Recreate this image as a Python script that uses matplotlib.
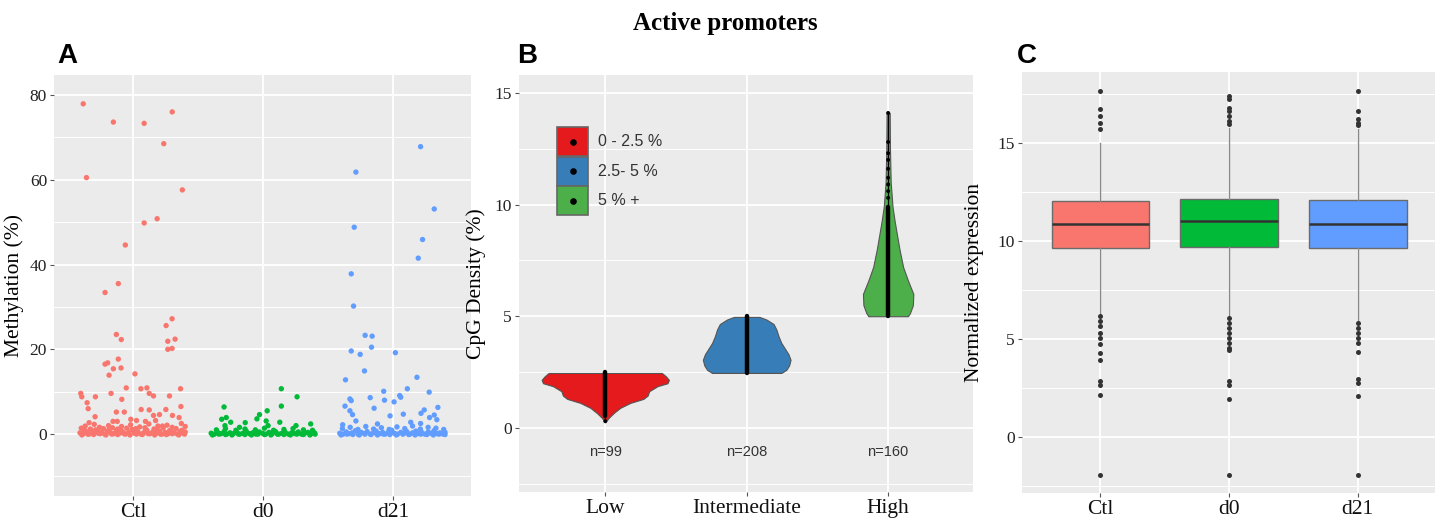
import matplotlib
matplotlib.use("Agg")
import matplotlib.pyplot as plt
from matplotlib.patches import Rectangle
import numpy as np

SERIF = "Liberation Serif"
SANS = "Liberation Sans"
BG = "#EBEBEB"

# ---------------- Panel A: methylation per sample (jittered points) ----------------
groups_a = ["Ctl", "d0", "d21"]
colors_a = ["#F8766D", "#00BA38", "#619CFF"]

ctl_dx = [-0.385, -0.36, -0.153, 0.084, 0.30, 0.235, 0.378, 0.084, 0.184, -0.061,
          -0.115, -0.217, -0.130, -0.092, 0.299, 0.253, 0.266, 0.322, 0.266, 0.299,
          -0.217, -0.197, -0.115, -0.186, -0.153, -0.094, 0.013, -0.404, -0.396, -0.355,
          -0.347, -0.291, -0.171, -0.088, -0.054, -0.130, -0.069, 0.059, 0.105, 0.123,
          0.156, 0.279, 0.364, 0.367, -0.294, 0.061, 0.123, 0.251, 0.353, 0.302,
          0.156, 0.202, -0.34, -0.156, -0.123, -0.019, 0.025, 0.094, 0.172, 0.225]
ctl_y = [77.9, 60.5, 73.6, 73.3, 76.0, 68.5, 57.6, 49.8, 50.8, 44.6,
         35.5, 33.4, 23.5, 22.3, 27.2, 25.6, 21.9, 22.4, 20.0, 20.2,
         16.5, 16.8, 17.7, 13.9, 15.4, 15.6, 14.2, 9.6, 8.8, 7.4,
         6.0, 8.8, 9.6, 8.2, 10.9, 5.2, 5.2, 10.7, 10.9, 9.6,
         9.0, 9.0, 10.7, 6.5, 4.1, 5.8, 5.7, 5.8, 3.9, 4.4,
         4.4, 4.6, 2.7, 3.0, 3.0, 3.5, 3.2, 3.0, 3.2, 1.9]
ctl_base_dx = [-0.41, -0.385, -0.36, -0.34, -0.315, -0.29, -0.27, -0.245, -0.22, -0.2,
               -0.175, -0.15, -0.13, -0.105, -0.08, -0.06, -0.035, -0.01, 0.01, 0.035,
               0.06, 0.08, 0.105, 0.13, 0.15, 0.175, 0.2, 0.22, 0.245, 0.27,
               0.29, 0.315, 0.34, 0.36, 0.385, 0.40,
               -0.40, -0.37, -0.33, -0.30, -0.26, -0.23, -0.19, -0.16, -0.12, -0.09,
               -0.05, -0.02, 0.02, 0.05, 0.09, 0.12, 0.16, 0.19, 0.23, 0.26,
               0.30, 0.33, 0.37, 0.40,
               -0.395, -0.35, -0.305, -0.255, -0.21, -0.165, -0.12, -0.07, -0.025, 0.025,
               0.07, 0.115, 0.165, 0.21, 0.255, 0.30, 0.35, 0.395,
               -0.375, -0.28, -0.185, -0.095, 0.0, 0.095, 0.185, 0.28, 0.375]
ctl_base_y = [0.3, 0.1, 0.6, 0.0, 0.4, 1.0, 0.2, 0.5, 0.0, 0.7,
              0.3, 0.1, 0.8, 0.2, 0.5, 0.0, 0.4, 1.1, 0.2, 0.6,
              0.0, 0.3, 0.9, 0.1, 0.5, 0.2, 0.7, 0.0, 0.4, 0.1,
              0.8, 0.3, 0.0, 0.6, 0.2, 0.5,
              1.4, 1.9, 1.2, 2.3, 1.6, 1.3, 2.0, 1.5, 1.2, 1.8,
              1.4, 2.2, 1.3, 1.7, 1.5, 2.4, 1.2, 1.9, 1.4, 2.1,
              1.6, 1.3, 2.5, 1.8,
              -0.2, 0.0, -0.1, 0.1, -0.2, 0.0, -0.1, 0.1, -0.2, 0.0,
              -0.1, 0.1, -0.2, 0.0, -0.1, 0.1, -0.2, 0.0,
              0.9, 0.7, 1.0, 0.8, 0.9, 0.7, 1.0, 0.8, 0.9]

d0_dx = [0.140, 0.261, -0.301, 0.140, 0.031, -0.284, -0.319, -0.25, -0.028, -0.048,
         0.128, -0.138, 0.023, -0.294, -0.182, 0.366, 0.253, 0.038]
d0_y = [10.7, 8.8, 6.4, 6.6, 5.5, 3.9, 3.5, 2.8, 4.6, 3.6,
        2.8, 2.7, 3.1, 2.0, 1.6, 2.4, 2.0, 2.0]
d0_base_dx = [-0.40, -0.375, -0.35, -0.325, -0.30, -0.28, -0.255, -0.23, -0.205, -0.18,
              -0.155, -0.13, -0.105, -0.08, -0.055, -0.03, -0.005, 0.02, 0.045, 0.07,
              0.095, 0.12, 0.145, 0.17, 0.195, 0.22, 0.245, 0.27, 0.295, 0.32,
              0.345, 0.37, 0.395,
              -0.36, -0.29, -0.21, -0.14, -0.06, 0.01, 0.08, 0.16, 0.23, 0.31, 0.38,
              -0.39, -0.34, -0.29, -0.24, -0.19, -0.14, -0.09, -0.04, 0.01, 0.06,
              0.11, 0.16, 0.21, 0.26, 0.31, 0.36, 0.40]
d0_base_y = [0.2, 0.0, 0.4, 0.1, 0.6, 0.0, 0.3, 0.1, 0.5, 0.0,
             0.2, 0.7, 0.1, 0.3, 0.0, 0.5, 0.2, 0.0, 0.4, 0.1,
             0.6, 0.0, 0.2, 0.4, 0.0, 0.3, 0.1, 0.5, 0.0, 0.2,
             0.4, 0.1, 0.3,
             1.0, 1.3, 0.9, 1.2, 1.0, 1.4, 0.9, 1.1, 1.3, 1.0, 0.9,
             -0.2, 0.0, -0.1, -0.2, 0.0, -0.1, -0.2, 0.0, -0.1, -0.2,
             0.0, -0.1, -0.2, 0.0, -0.1, -0.2, 0.0]

d21_dx = [0.212, -0.286, 0.317, -0.299, 0.227, 0.194, -0.322,
          -0.304, -0.215, -0.161, -0.166, -0.322, -0.253, 0.018, -0.22, -0.366, 0.184,
          -0.072, 0.110, 0.278, -0.332, -0.322, -0.176, -0.066, 0.051, 0.059, 0.008,
          -0.370, -0.146, 0.345, -0.332, -0.312, -0.023, 0.079, 0.240, 0.215, 0.317,
          0.281, 0.337, -0.286, -0.388, -0.12, 0.136, 0.212]
d21_y = [67.8, 61.8, 53.1, 48.8, 45.9, 41.5, 37.8,
         30.2, 23.3, 23.1, 20.5, 19.6, 18.8, 19.2, 14.9, 12.8, 13.4,
         10.1, 10.7, 9.9, 8.3, 7.9, 8.6, 8.0, 9.1, 8.7, 7.6,
         6.6, 6.1, 6.3, 5.5, 4.6, 4.3, 4.7, 5.7, 4.9, 4.5,
         3.9, 3.4, 3.1, 2.2, 2.4, 2.8, 2.5]
d21_base_dx = [-0.41, -0.385, -0.36, -0.34, -0.315, -0.29, -0.27, -0.245, -0.22, -0.2,
               -0.175, -0.15, -0.13, -0.105, -0.08, -0.06, -0.035, -0.01, 0.01, 0.035,
               0.06, 0.08, 0.105, 0.13, 0.15, 0.175, 0.2, 0.22, 0.245, 0.27,
               0.29, 0.315, 0.34, 0.36, 0.385, 0.40,
               -0.39, -0.33, -0.27, -0.21, -0.15, -0.09, -0.03, 0.03, 0.09, 0.15,
               0.21, 0.27, 0.33, 0.39,
               -0.40, -0.355, -0.31, -0.26, -0.215, -0.17, -0.12, -0.075, -0.025, 0.025,
               0.075, 0.12, 0.17, 0.215, 0.26, 0.31, 0.355, 0.40]
d21_base_y = [0.2, 0.0, 0.5, 0.1, 0.3, 0.8, 0.0, 0.4, 0.1, 0.6,
              0.0, 0.3, 0.7, 0.1, 0.4, 0.0, 0.5, 0.9, 0.2, 0.0,
              0.4, 0.1, 0.6, 0.0, 0.3, 0.7, 0.1, 0.4, 0.0, 0.5,
              0.2, 0.8, 0.1, 0.3, 0.0, 0.4,
              1.3, 1.6, 1.1, 1.8, 1.2, 1.5, 1.1, 1.7, 1.3, 1.9,
              1.2, 1.6, 1.4, 1.1,
              -0.2, 0.0, -0.1, -0.2, 0.0, -0.1, -0.2, 0.0, -0.1, -0.2,
              0.0, -0.1, -0.2, 0.0, -0.1, -0.2, 0.0, -0.1]

points_a = [(ctl_dx + ctl_base_dx, ctl_y + ctl_base_y),
            (d0_dx + d0_base_dx, d0_y + d0_base_y),
            (d21_dx + d21_base_dx, d21_y + d21_base_y)]

# ---------------- Panel B: CpG density violins ----------------
groups_b = ["Low", "Intermediate", "High"]
colors_b = ["#E41A1C", "#377EB8", "#4DAF4A"]
counts_b = [99, 208, 160]
legend_b = ["0 - 2.5 %", "2.5- 5 %", "5 % +"]

low_y = [0.25, 0.45, 0.67, 0.9, 1.12, 1.3, 1.45, 1.64, 1.87, 2.0, 2.15, 2.3, 2.46]
low_w = [0.0, 0.024, 0.06, 0.106, 0.177, 0.27, 0.30, 0.31, 0.37, 0.44, 0.45, 0.43, 0.40]
mid_y = [2.46, 2.6, 2.8, 3.05, 3.3, 3.55, 3.8, 4.1, 4.4, 4.65, 4.85, 4.97]
mid_w = [0.245, 0.28, 0.30, 0.31, 0.295, 0.27, 0.245, 0.225, 0.21, 0.19, 0.14, 0.09]
high_y = [5.0, 5.15, 5.5, 6.0, 6.6, 7.2, 8.0, 8.7, 9.3, 9.9, 11.0, 12.5, 14.1]
high_w = [0.14, 0.155, 0.175, 0.178, 0.14, 0.106, 0.08, 0.061, 0.045, 0.031, 0.018, 0.013, 0.011]
profiles_b = [(low_y, low_w), (mid_y, mid_w), (high_y, high_w)]

# dense stretch of observations (drawn as a thick strip) and isolated observations
dense_b = [(0.55, 2.5), (2.45, 5.0), (5.0, 9.9)]
sparse_b = [[0.3], [], [10.3, 10.6, 10.9, 11.2, 11.6, 12.0, 12.3, 12.8, 14.1]]

# ---------------- Panel C: normalized expression boxplots ----------------
groups_c = ["Ctl", "d0", "d21"]
colors_c = ["#F8766D", "#00BA38", "#619CFF"]
q1_c = [9.64, 9.68, 9.61]
med_c = [10.87, 10.99, 10.87]
q3_c = [12.02, 12.11, 12.07]
whislo_c = [6.24, 6.16, 5.9]
whishi_c = [15.0, 15.75, 15.68]
fliers_c = [
    [17.64, 16.7, 16.36, 16.02, 15.68, 6.16, 5.9, 5.65, 5.3, 5.05, 4.71, 4.29, 3.91, 2.84, 2.67, 2.16, -1.92],
    [17.38, 17.2, 16.79, 16.6, 16.36, 16.1, 15.94, 6.07, 5.82, 5.56, 5.3, 5.05, 4.8, 4.54, 4.42, 2.84, 2.67, 1.94, -1.92],
    [17.64, 16.62, 16.19, 16.02, 15.88, 5.82, 5.56, 5.3, 5.05, 4.8, 4.34, 2.93, 2.76, 2.08, -1.92],
]

W, H = 1442, 522
fig = plt.figure(figsize=(W / 100, H / 100), dpi=100)


def px_axes(left, top, right, bottom):
    return fig.add_axes([left / W, 1 - bottom / H, (right - left) / W, (bottom - top) / H])


def style(ax, major, minor, ylim, labels, tick_size=12.5, xtick_size=15.5):
    ax.set_facecolor(BG)
    for s in ax.spines.values():
        s.set_visible(False)
    ax.set_xlim(0.39, 3.6)
    ax.set_ylim(*ylim)
    ax.set_xticks([1, 2, 3])
    ax.set_xticklabels(labels, fontfamily=SERIF, fontsize=xtick_size, color="#111111")
    ax.set_yticks(major)
    ax.set_yticklabels([str(v) for v in major], fontfamily=SERIF, fontsize=tick_size, color="#222222")
    ax.set_yticks(minor, minor=True)
    ax.tick_params(axis="both", which="major", length=3, width=0.8, color="#555555", pad=2)
    ax.tick_params(axis="y", which="minor", length=0)
    ax.grid(True, which="major", color="white", linewidth=1.3)
    ax.grid(True, which="minor", axis="y", color="white", linewidth=0.7)
    ax.set_axisbelow(True)


# Panel A
axA = px_axes(54, 75, 471, 496)
style(axA, [0, 20, 40, 60, 80], [-10, 10, 30, 50, 70], (-14.6, 84.7), groups_a)
for i, ((dx, ys), col) in enumerate(zip(points_a, colors_a)):
    axA.scatter([i + 1 + d for d in dx], ys, s=15, color=col, edgecolors="none", zorder=3)
axA.set_ylabel("Methylation (%)", fontfamily=SERIF, fontsize=15.5, labelpad=4)

# Panel B
axB = px_axes(519, 75, 973, 492)
style(axB, [0, 5, 10, 15], [-2.5, 2.5, 7.5, 12.5], (-2.87, 15.8), groups_b)
for i, ((ys, ws), col) in enumerate(zip(profiles_b, colors_b)):
    x0 = i + 1
    ys = np.asarray(ys)
    ws = np.asarray(ws)
    axB.fill_betweenx(ys, x0 - ws, x0 + ws, facecolor=col, edgecolor="#555555",
                      linewidth=0.8, zorder=2)
    lo, hi = dense_b[i]
    axB.plot([x0, x0], [lo, hi], color="black", linewidth=3.2, solid_capstyle="round", zorder=3)
    if sparse_b[i]:
        axB.plot([x0, x0], [hi, max(sparse_b[i])], color="black", linewidth=0.9, zorder=3)
        axB.scatter([x0] * len(sparse_b[i]), sparse_b[i], s=8, color="black",
                    edgecolors="none", zorder=4)
    axB.text(x0, -1.1, f"n={counts_b[i]}", ha="center", va="center",
             fontfamily=SANS, fontsize=10.5, color="#333333")
axB.set_ylabel("CpG Density (%)", fontfamily=SERIF, fontsize=15.5, labelpad=6)

# legend keys for panel B, placed in axes pixels
for k, (lab, col) in enumerate(zip(legend_b, colors_b)):
    top = 127 + k * 29.5
    x_l, x_r = 557, 588
    (xa, ya) = axB.transAxes.inverted().transform(fig.transFigure.transform((x_l / W, 1 - (top + 29) / H)))
    (xb, yb) = axB.transAxes.inverted().transform(fig.transFigure.transform((x_r / W, 1 - top / H)))
    axB.add_patch(Rectangle((xa, ya), xb - xa, yb - ya, transform=axB.transAxes,
                            facecolor=col, edgecolor="#666666", linewidth=1.2, zorder=5))
    axB.scatter([(xa + xb) / 2], [(ya + yb) / 2], s=14, color="black",
                transform=axB.transAxes, zorder=6)
    axB.text(xb + 0.022, (ya + yb) / 2, lab, transform=axB.transAxes, ha="left", va="center",
             fontfamily=SANS, fontsize=11.5, color="#333333", zorder=6)

# Panel C
axC = px_axes(1022, 72, 1435, 493)
stats = []
for i in range(3):
    stats.append(dict(med=med_c[i], q1=q1_c[i], q3=q3_c[i],
                      whislo=whislo_c[i], whishi=whishi_c[i], fliers=fliers_c[i]))
bp = axC.bxp(stats, positions=[1, 2, 3], widths=0.76, patch_artist=True, showcaps=False,
             boxprops=dict(edgecolor="#6b6b6b", linewidth=1.0),
             medianprops=dict(color="#333333", linewidth=1.8),
             whiskerprops=dict(color="#8a8a8a", linewidth=1.0),
             flierprops=dict(marker="o", markersize=3.6, markerfacecolor="#333333",
                             markeredgecolor="none"))
for patch, col in zip(bp["boxes"], colors_c):
    patch.set_facecolor(col)
style(axC, [0, 5, 10, 15], [-2.5, 2.5, 7.5, 12.5, 17.5], (-2.86, 18.6), groups_c)
axC.set_ylabel("Normalized expression", fontfamily=SERIF, fontsize=15.5, labelpad=10)

# Title and panel letters
fig.text(725 / W, 1 - 24 / H, "Active promoters", ha="center", va="center",
         fontfamily=SERIF, fontweight="bold", fontsize=18)
for letter, x in [("A", 57), ("B", 517), ("C", 1017)]:
    fig.text(x / W, 1 - 63 / H, letter, ha="left", va="baseline",
             fontfamily=SANS, fontweight="bold", fontsize=20)

fig.savefig("out.png", dpi=100, facecolor="white")
